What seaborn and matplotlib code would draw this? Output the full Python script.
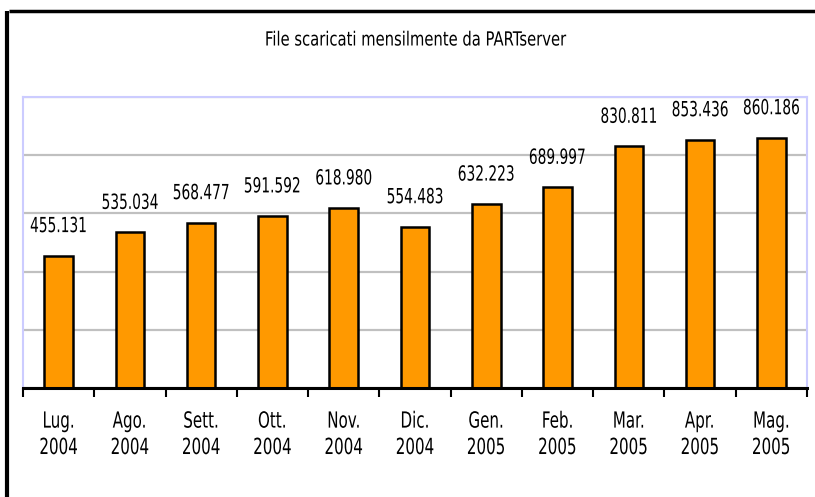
import numpy as np
import pandas as pd
import seaborn as sns
import matplotlib.pyplot as plt
from matplotlib.lines import Line2D
from matplotlib.patheffects import AbstractPathEffect
from matplotlib.transforms import Affine2D

# dati: file scaricati ogni mese
mesi = ['Lug.\n2004', 'Ago.\n2004', 'Sett.\n2004', 'Ott.\n2004', 'Nov.\n2004', 'Dic.\n2004',
        'Gen.\n2005', 'Feb.\n2005', 'Mar.\n2005', 'Apr.\n2005', 'Mag.\n2005']
scaricati = [455131, 535034, 568477, 591592, 618980, 554483,
             632223, 689997, 830811, 853436, 860186]
titolo = 'File scaricati mensilmente da PARTserver'

df = pd.DataFrame({'mese': mesi, 'file': scaricati})


# testo "stretto" (il font dell'originale e' molto condensato)
class Stretto(AbstractPathEffect):
    def __init__(self, sx=0.72):
        super().__init__()
        self.sx = sx

    def draw_path(self, renderer, gc, tpath, affine, rgbFace=None):
        bb = tpath.get_extents(affine)
        cx = (bb.x0 + bb.x1) / 2
        aff = affine + Affine2D().translate(-cx, 0).scale(self.sx, 1).translate(cx, 0)
        renderer.draw_path(gc, tpath, aff, rgbFace)


sns.set_style('white')
plt.rcParams['font.family'] = ['DejaVu Sans']
plt.rcParams['text.color'] = 'black'
plt.rcParams['xtick.labelcolor'] = 'black'

fig = plt.figure(figsize=(8.15, 4.97), dpi=100)
ax = fig.add_axes([23 / 815, 1 - 388 / 497, (807 - 23) / 815, (388 - 97) / 497])

sns.barplot(data=df, x='mese', y='file', color='#FF9900', saturation=1,
            edgecolor='black', linewidth=1.8, width=0.4, ax=ax, zorder=3)

# etichette con separatore delle migliaia italiano
etichette = [f'{v:,}'.replace(',', '.') for v in scaricati]
testi = ax.bar_label(ax.containers[0], labels=etichette, padding=14, fontsize=15)
for t in testi:
    t.set_path_effects([Stretto(0.66)])

ax.set_xlim(-0.5, len(mesi) - 0.5)
ax.set_ylim(0, 1000000)
ax.set_yticks(np.arange(0, 1000001, 200000))
ax.set_yticklabels([])
ax.yaxis.grid(True, color='#C0C0C0', linewidth=1.6, zorder=0)
ax.set_axisbelow(True)
ax.set_xlabel('')
ax.set_ylabel('')

# tacche tra le categorie
ax.set_xticks(np.arange(-0.5, len(mesi), 1), minor=True)
ax.tick_params(axis='x', which='major', length=0, pad=17, labelsize=16)
ax.tick_params(axis='x', which='minor', length=6.5, width=1.5, color='black', bottom=True)
ax.tick_params(axis='y', length=0)
for lab in ax.get_xticklabels():
    lab.set_linespacing(1.4)
    lab.set_path_effects([Stretto(0.68)])

for lato in ['top', 'left', 'right']:
    ax.spines[lato].set_color('#CCCCFF')
    ax.spines[lato].set_linewidth(1.5)
ax.spines['bottom'].set_color('black')
ax.spines['bottom'].set_linewidth(2.2)
ax.spines['bottom'].set_zorder(5)

fig.text(416 / 815, 1 - 40 / 497, titolo, ha='center', va='center', fontsize=14,
         path_effects=[Stretto(0.76)])

# cornice nera a sinistra e in alto
fig.add_artist(Line2D([7 / 815, 7 / 815], [1 - 11 / 497, 0], transform=fig.transFigure,
                      color='black', linewidth=3, solid_capstyle='butt'))
fig.add_artist(Line2D([9 / 815, 1], [1 - 10.5 / 497, 1 - 10.5 / 497], transform=fig.transFigure,
                      color='black', linewidth=2.5, solid_capstyle='butt'))

fig.savefig('out.png', dpi=100)
